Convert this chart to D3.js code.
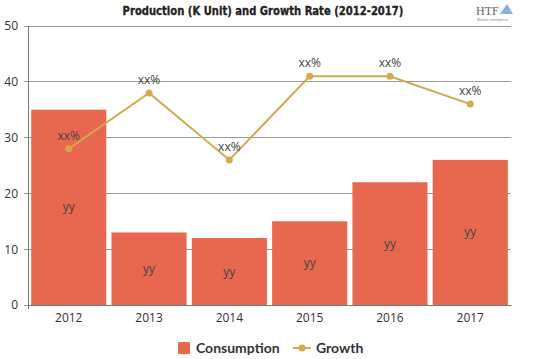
<!DOCTYPE html>
<html><head><meta charset="utf-8">
<script src="https://cdn.jsdelivr.net/npm/d3@7"></script>
<style>body{margin:0;background:#fff;}svg{display:block;}</style>
</head><body>
<svg id="c" width="539" height="359"></svg>
<script>
const years = ["2012","2013","2014","2015","2016","2017"];
const consumption = [35, 13, 12, 15, 22, 26];
const growth = [28, 38, 26, 41, 41, 36];
const barLabels = ["yy","yy","yy","yy","yy","yy"];
const pointLabels = ["xx%","xx%","xx%","xx%","xx%","xx%"];
const yTicks = [0,10,20,30,40,50];

const svg = d3.select("#c");
const m = {l:28, r:511, t:26, b:305};
const x = d3.scaleBand().domain(years).range([m.l, m.r]).paddingInner(0.065).paddingOuter(0.04);
const y = d3.scaleLinear().domain([0,50]).range([m.b, m.t]);
const font = "'Open Sans', 'DejaVu Sans', sans-serif";

// title
svg.append("text").attr("x", 263).attr("y", 15).attr("text-anchor","middle")
  .attr("font-family","'DejaVu Sans Condensed', 'DejaVu Sans', sans-serif").attr("font-weight","bold")
  .attr("font-size",12).attr("fill","#222").attr("stroke","#222").attr("stroke-width",0.3)
  .attr("transform","translate(263,0) scale(0.93,1) translate(-263,0)")
  .text("Production (K Unit) and Growth Rate (2012-2017)");

// logo
const lg = svg.append("g");
lg.append("text").attr("x",476).attr("y",15).attr("font-family","'Liberation Serif', serif").attr("font-size",12).attr("fill","#666").text("HTF");
lg.append("path").attr("d","M500,14 L507,4 L513,14 Z").attr("fill","#5a8fc0").attr("opacity",0.7);
lg.append("text").attr("x",477).attr("y",21).attr("font-family",font).attr("font-size",3.5).attr("fill","#777").text("Market Intelligence");

// grid
const grid = svg.append("g");
yTicks.forEach(t => {
  grid.append("line").attr("x1", m.l-4).attr("x2", m.r).attr("y1", y(t)).attr("y2", y(t))
    .attr("stroke", "#999").attr("stroke-width", 1).attr("shape-rendering","crispEdges");
});
grid.append("line").attr("x1", m.l).attr("x2", m.l).attr("y1", y(50)).attr("y2", y(0)+4)
  .attr("stroke","#777").attr("shape-rendering","crispEdges");

// y axis labels
const yAxis = d3.axisLeft(y).tickValues(yTicks).tickSize(0).tickPadding(10);
const yg = svg.append("g").attr("transform",`translate(${m.l},0)`).call(yAxis);
yg.select(".domain").remove();
yg.selectAll("text").attr("font-family",font).attr("font-size",12).attr("fill","#333");

// bars
svg.append("g").selectAll("rect").data(years).join("rect")
  .attr("x", d => x(d)).attr("width", x.bandwidth())
  .attr("y", (d,i) => y(consumption[i])).attr("height", (d,i) => y(0)-y(consumption[i]))
  .attr("fill", "#e8684f");

// bar labels
svg.append("g").selectAll("text").data(years).join("text")
  .attr("x", d => x(d)+x.bandwidth()/2).attr("y", (d,i) => y(consumption[i]/2)+4)
  .attr("text-anchor","middle").attr("font-family",font).attr("font-size",12).attr("fill","#444")
  .text((d,i) => barLabels[i]);

// x axis
const xAxis = d3.axisBottom(x).tickSize(0).tickPadding(8);
const xg = svg.append("g").attr("transform",`translate(0,${m.b})`).call(xAxis);
xg.select(".domain").attr("stroke","#777");
xg.selectAll("text").attr("font-family",font).attr("font-size",12).attr("fill","#333");

// line
const cx = d => x(d)+x.bandwidth()/2;
const line = d3.line().x((d,i) => cx(years[i])).y(d => y(d));
svg.append("path").datum(growth).attr("d", line).attr("fill","none").attr("stroke","#d4a84c").attr("stroke-width",2);
svg.append("g").selectAll("circle").data(growth).join("circle")
  .attr("cx",(d,i)=>cx(years[i])).attr("cy",d=>y(d)).attr("r",3.5).attr("fill","#d4a84c");
svg.append("g").selectAll("text").data(growth).join("text")
  .attr("x",(d,i)=>cx(years[i])).attr("y",d=>y(d)-9)
  .attr("text-anchor","middle").attr("font-family",font).attr("font-size",12).attr("fill","#444")
  .text((d,i)=>pointLabels[i]);

// legend
const leg = svg.append("g");
leg.append("rect").attr("x",178).attr("y",342).attr("width",12).attr("height",12).attr("fill","#e8684f");
leg.append("text").attr("x",196).attr("y",353).attr("font-family","Lato, sans-serif").attr("font-weight","bold").attr("font-size",14).attr("fill","#333").text("Consumption");
leg.append("line").attr("x1",293).attr("x2",311).attr("y1",348).attr("y2",348).attr("stroke","#d4a84c").attr("stroke-width",2);
leg.append("circle").attr("cx",302).attr("cy",348).attr("r",3.5).attr("fill","#d4a84c");
leg.append("text").attr("x",316).attr("y",353).attr("font-family","Lato, sans-serif").attr("font-weight","bold").attr("font-size",14).attr("fill","#333").text("Growth");
</script>
</body></html>
